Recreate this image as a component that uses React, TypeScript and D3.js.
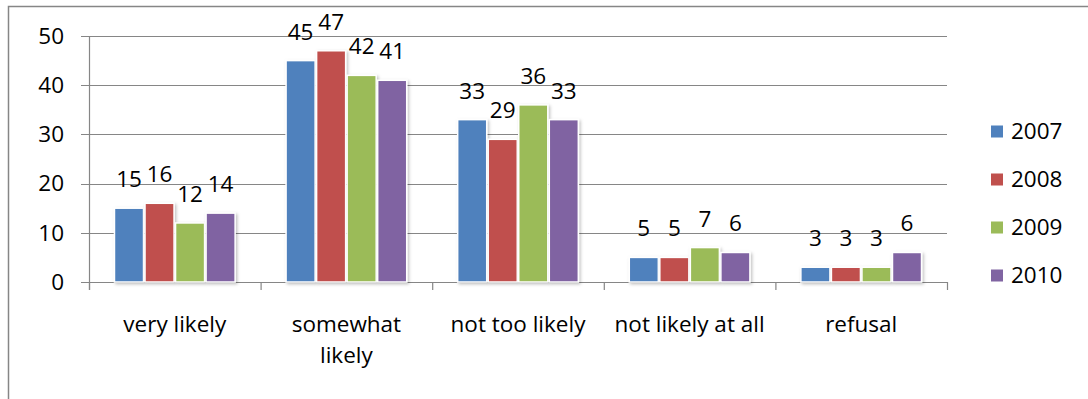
import React from "react";
import * as d3 from "d3";

const categories = ["very likely", "somewhat likely", "not too likely", "not likely at all", "refusal"];
const categoryLines = [["very likely"], ["somewhat", "likely"], ["not too likely"], ["not likely at all"], ["refusal"]];
const seriesNames = ["2007", "2008", "2009", "2010"];
const values2007 = [15, 45, 33, 5, 3];
const values2008 = [16, 47, 29, 5, 3];
const values2009 = [12, 42, 36, 7, 3];
const values2010 = [14, 41, 33, 6, 6];
const seriesValues = [values2007, values2008, values2009, values2010];
const colors = ["#4F81BD", "#C0504D", "#9BBB59", "#8064A2"];
const yTicks = [0, 10, 20, 30, 40, 50];

const W = 1088;
const H = 399;
const FONT = "'Open Sans', 'Noto Sans', sans-serif";
const FS = 22.5;

export default function App() {
  const x0 = d3.scaleBand<string>().domain(categories).range([89, 947]).padding(0);
  const x1 = d3
    .scaleBand<string>()
    .domain(seriesNames)
    .range([0, x0.bandwidth()])
    .paddingInner(0)
    .paddingOuter(0.81);
  const y = d3.scaleLinear().domain([0, 50]).range([282, 36]);
  const axisColor = "#868686";

  return (
    <svg
      width={W}
      height={H}
      style={{ position: "absolute", left: 0, top: 0, background: "#fff" }}
      fontFamily={FONT}
    >
      <defs>
        <filter id="shadow" x="-20%" y="-20%" width="150%" height="150%">
          <feDropShadow dx="1.5" dy="1.5" stdDeviation="1.5" floodColor="#000" floodOpacity="0.25" />
        </filter>
      </defs>
      <rect x={8.5} y={6.5} width={1200} height={600} fill="#fff" stroke={axisColor} strokeWidth={1.5} />

      {yTicks.map((t) => (
        <g key={t}>
          <line x1={81} x2={947} y1={Math.round(y(t)) + 0.5} y2={Math.round(y(t)) + 0.5} stroke={axisColor} strokeWidth={1.2} />
          <text x={64} y={y(t)} dy="0.35em" textAnchor="end" fontSize={FS} fill="#000">
            {t}
          </text>
        </g>
      ))}
      <line x1={89.5} x2={89.5} y1={y(50)} y2={290} stroke={axisColor} strokeWidth={1.2} />
      {categories.map((c) => (
        <line key={c} x1={x0(c)! + 0.5} x2={x0(c)! + 0.5} y1={282} y2={290} stroke={axisColor} strokeWidth={1.2} />
      ))}
      <line x1={947.5} x2={947.5} y1={282} y2={290} stroke={axisColor} strokeWidth={1.2} />

      {seriesNames.map((s, si) => (
        <g key={s}>
          {categories.map((c, ci) => {
            const v = seriesValues[si][ci];
            const bx = x0(c)! + x1(s)!;
            const bw = x1.bandwidth();
            return (
              <g key={c}>
                <rect
                  x={bx + 0.75}
                  y={y(v)}
                  width={bw - 1.5}
                  height={y(0) - y(v)}
                  fill={colors[si]}
                  stroke="#fff"
                  strokeWidth={1.5}
                  filter="url(#shadow)"
                />
                <text x={bx + bw / 2} y={y(v) - 21} textAnchor="middle" fontSize={FS} fill="#000">
                  {v}
                </text>
              </g>
            );
          })}
        </g>
      ))}

      {categories.map((c, i) => (
        <text key={c} x={x0(c)! + x0.bandwidth() / 2} y={332} textAnchor="middle" fontSize={FS} fill="#000">
          {categoryLines[i].map((line, li) => (
            <tspan key={li} x={x0(c)! + x0.bandwidth() / 2} dy={li === 0 ? 0 : 31}>
              {line}
            </tspan>
          ))}
        </text>
      ))}

      {seriesNames.map((s, i) => {
        const ly = 131.5 + i * 48;
        return (
          <g key={s}>
            <rect x={991} y={ly - 6} width={12} height={12} fill={colors[i]} />
            <text x={1011} y={ly} dy="0.35em" fontSize={FS} fill="#000">
              {s}
            </text>
          </g>
        );
      })}
    </svg>
  );
}
